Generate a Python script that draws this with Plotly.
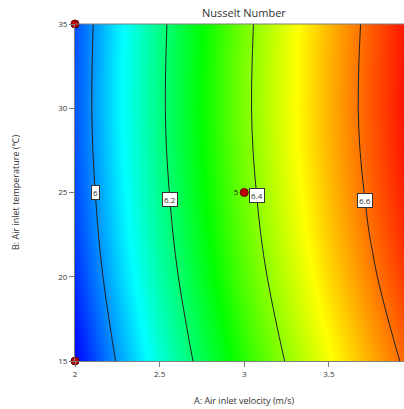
import numpy as np
import plotly.graph_objects as go

# Factor A: air inlet velocity (m/s), factor B: air inlet temperature (°C)
velocity = [2.0, 2.25, 2.5, 2.75, 3.0, 3.25, 3.5, 3.75, 4.0]
temperature = [15, 17.5, 20, 22.5, 25, 27.5, 30, 32.5, 35]

# Predicted Nusselt number, one row per temperature
nusselt = [
    [5.884, 6.005, 6.118, 6.222, 6.317, 6.404, 6.482, 6.554, 6.622],
    [5.903, 6.024, 6.137, 6.241, 6.336, 6.423, 6.501, 6.573, 6.641],
    [5.920, 6.041, 6.154, 6.258, 6.353, 6.440, 6.518, 6.590, 6.658],
    [5.933, 6.054, 6.167, 6.271, 6.366, 6.453, 6.531, 6.603, 6.671],
    [5.942, 6.063, 6.176, 6.280, 6.375, 6.462, 6.540, 6.612, 6.680],
    [5.949, 6.070, 6.183, 6.287, 6.382, 6.469, 6.547, 6.619, 6.687],
    [5.952, 6.073, 6.186, 6.290, 6.385, 6.472, 6.550, 6.622, 6.690],
    [5.951, 6.072, 6.185, 6.289, 6.384, 6.471, 6.549, 6.621, 6.689],
    [5.948, 6.069, 6.182, 6.286, 6.381, 6.468, 6.546, 6.618, 6.686],
]

contour_levels = [6.0, 6.2, 6.4, 6.6]
level_labels = ["6", "6.2", "6.4", "6.6"]
label_temperature = [25.0, 24.6, 24.8, 24.55]

# Design points and their replicate counts
design_velocity = [2.0, 2.0, 3.0]
design_temperature = [35, 15, 25]
design_count = ["", "", "5"]

font_family = "Open Sans, Noto Sans, sans-serif"
axis_grey = "#7f7f7f"

fig = go.Figure()

fig.add_trace(go.Contour(
    x=velocity,
    y=temperature,
    z=nusselt,
    zmin=5.884,
    zmax=6.690,
    colorscale=[[0.0, "#0000ff"], [0.25, "#00ffff"], [0.5, "#00ff00"],
                [0.75, "#ffff00"], [1.0, "#ff0000"]],
    contours=dict(coloring="heatmap", start=contour_levels[0],
                  end=contour_levels[-1], size=0.2, showlabels=False),
    line=dict(color="#222222", width=1),
    showscale=False,
    hoverinfo="skip",
))

fig.add_trace(go.Scatter(
    x=design_velocity,
    y=design_temperature,
    mode="markers+text",
    text=design_count,
    textposition="middle left",
    textfont=dict(size=8, color="#222", family=font_family),
    marker=dict(size=8, color="#c00000", line=dict(color="#5a0000", width=1)),
    cliponaxis=False,
    showlegend=False,
    hoverinfo="skip",
))

# Contour value labels placed where each level crosses its label row
vel = np.array(velocity)
temps = np.array(temperature)
grid = np.array(nusselt)
for level, text, t in zip(contour_levels, level_labels, label_temperature):
    row = np.array([np.interp(t, temps, grid[:, j]) for j in range(len(vel))])
    a = float(np.interp(level, row, vel))
    fig.add_annotation(
        x=a, y=t, xref="x", yref="y", text=text, showarrow=False,
        bgcolor="white", bordercolor="#333", borderwidth=1, borderpad=1,
        font=dict(size=8, color="#333", family=font_family),
    )

x_lo, x_hi = 2.0, 3.944
full_centre = (3.0 - x_lo) / (x_hi - x_lo)

fig.add_annotation(
    text="Nusselt Number", xref="paper", yref="paper",
    x=full_centre, y=1.0, yanchor="bottom", yshift=2, showarrow=False,
    font=dict(size=11, color="#333", family=font_family),
)
fig.add_annotation(
    text="A: Air inlet velocity (m/s)", xref="paper", yref="paper",
    x=full_centre, y=0, yanchor="middle", yshift=-39, showarrow=False,
    font=dict(size=9, color="#333", family=font_family),
)

fig.update_xaxes(
    range=[x_lo, x_hi], tickvals=[2, 2.5, 3, 3.5], ticktext=["2", "2.5", "3", "3.5"],
    ticks="outside", ticklen=5, tickcolor=axis_grey, showline=True,
    linecolor=axis_grey, linewidth=1, showgrid=False, zeroline=False,
    tickfont=dict(size=8, color="#333", family=font_family), mirror=False,
)
fig.update_yaxes(
    range=[15, 35], tickvals=[15, 20, 25, 30, 35],
    ticks="outside", ticklen=5, tickcolor=axis_grey, showline=True,
    linecolor=axis_grey, linewidth=1, showgrid=False, zeroline=False,
    tickfont=dict(size=8, color="#333", family=font_family),
    title=dict(text="B: Air inlet temperature (\u2103)", standoff=37,
               font=dict(size=9, color="#333", family=font_family)),
)

# top border of the plot area
fig.add_shape(type="line", xref="paper", yref="paper", x0=0, x1=1, y0=1, y1=1,
              line=dict(color=axis_grey, width=1))

fig.update_layout(
    width=404, height=409,
    margin=dict(l=75, r=0, t=24, b=48),
    paper_bgcolor="white", plot_bgcolor="white",
    showlegend=False,
    font=dict(family=font_family),
)

fig.write_html("out.html")
